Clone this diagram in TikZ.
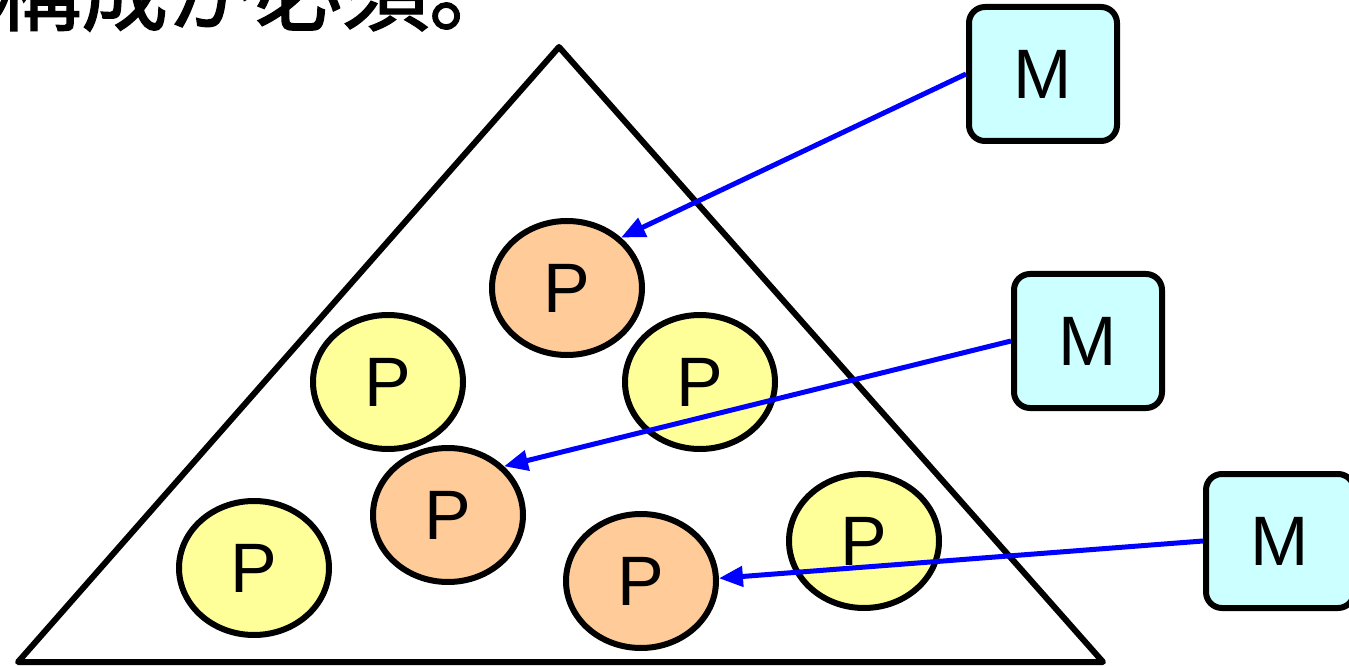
\documentclass[tikz,border=0pt]{standalone}
\usepackage{fontspec}
\setsansfont{Liberation Sans}
\newfontfamily\cjk{Noto Sans CJK JP}
\usetikzlibrary{shapes.geometric,arrows.meta}
\definecolor{porange}{HTML}{FFCC99}
\definecolor{pyellow}{HTML}{FFFF99}
\definecolor{mcyan}{HTML}{CCFFFF}
\tikzset{
  pnode/.style={ellipse,draw=black,line width=6pt,minimum width=150pt,minimum height=134pt,inner sep=0pt,font=\sffamily\fontsize{70}{70}\selectfont},
  porg/.style={pnode,fill=porange},
  pyel/.style={pnode,fill=pyellow},
  mnode/.style={rectangle,rounded corners=16pt,draw=black,line width=6pt,fill=mcyan,minimum width=148pt,minimum height=134pt,inner sep=0pt,font=\sffamily\fontsize{70}{70}\selectfont},
  marrow/.style={draw=blue,line width=5pt,-{Triangle[length=24pt,width=20pt]}}
}
\begin{document}
\begin{tikzpicture}[x=1pt,y=1pt]
\useasboundingbox (0,0) rectangle (1349,665);
\clip (0,0) rectangle (1349,665);
\node[anchor=base west,inner sep=0pt,font=\cjk\fontsize{87}{87}\selectfont] (title) at (-6,641) {\addfontfeature{FakeBold=1.5}構成が必須。};
\coordinate (apex) at (559,618);
\coordinate (bl) at (18,3);
\coordinate (br) at (1103,3);
\draw[line width=6pt,line join=round] (apex) -- (bl) -- (br) -- cycle;
\node[porg] (p1) at (567,377) {P};
\node[pyel] (y1) at (388,283) {P};
\node[pyel] (y2) at (700,283) {P};
\node[porg] (p2) at (448,150) {P};
\node[pyel] (y3) at (254,97) {P};
\node[porg] (p3) at (641,84) {P};
\node[pyel] (y4) at (864,124) {P};
\node[mnode] (m1) at (1043,591) {M};
\node[mnode] (m2) at (1088,324) {M};
\node[mnode] (m3) at (1280,124) {M};
\draw[marrow] (m1.west) -- (p1.43);
\draw[marrow] (m2.west) -- (p2.41);
\draw[marrow] (m3.west) -- (p3.2);
\end{tikzpicture}
\end{document}
